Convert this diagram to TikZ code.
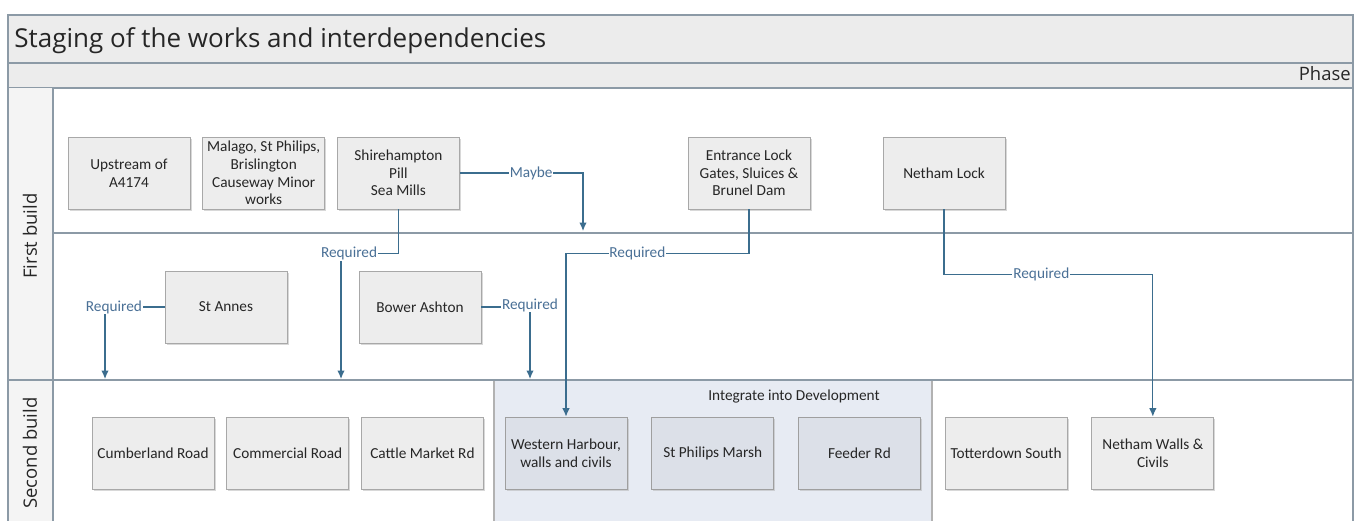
\documentclass[tikz,border=0pt]{standalone}
\usepackage{fontspec}
\setmainfont{Open Sans}
\newfontfamily\boxfont{Carlito}
\usetikzlibrary{arrows.meta,positioning,shadows}
\definecolor{framec}{HTML}{8C9AA6}
\definecolor{bandc}{HTML}{ECECEC}
\definecolor{boxc}{HTML}{EDEDED}
\definecolor{boxline}{HTML}{A8A8A8}
\definecolor{devc}{HTML}{E7EBF3}
\definecolor{devbox}{HTML}{DCE0E8}
\definecolor{linkc}{HTML}{3B6D8E}
\definecolor{lblc}{HTML}{4A7096}

\begin{document}
\begin{tikzpicture}[x=0.2mm,y=-0.2mm,>={Latex[length=1.7mm,width=1.5mm]},
		work/.style={draw=boxline,fill=boxc,rectangle,minimum width=24.4mm,minimum height=14.4mm,inner sep=1pt,align=center,text=black!85,font=\boxfont\fontsize{8.7}{10}\selectfont,drop shadow={shadow xshift=0.3mm,shadow yshift=-0.4mm,fill=black!30}},
		devwork/.style={work,fill=devbox,draw=gray!75},
		link/.style={->,draw=linkc,line width=0.7pt},
		lbl/.style={fill=white,inner sep=0.5pt,text=lblc,font=\boxfont\fontsize{8.7}{10}\selectfont},
		lane/.style={rotate=90,text=black!85,font=\fontsize{10.5}{12}\selectfont}]
		\useasboundingbox (0,0) rectangle (1363,521);
		% swimlane frame
		\fill[white] (0,0) rectangle (1363,521);
		\draw[framec,fill=bandc,line width=0.8pt] (8,15) rectangle (1353,63);
		\draw[framec,fill=bandc,line width=0.8pt] (8,63) rectangle (1353,88);
		\fill[bandc!60!white] (8,88) rectangle (53,521);
		\draw[gray!60,fill=devc,line width=0.6pt] (494,521) -- (494,380) -- (932,380) -- (932,521);
		\draw[framec,line width=0.8pt]
			(8,88) -- (8,521) (53,88) -- (53,521) (1353,88) -- (1353,521)
			(53,233) -- (1353,233) (8,380) -- (1353,380);
		
		\node[anchor=base west,inner sep=0pt,text=black!85,font=\fontsize{14.8}{17}\selectfont] (title) at (14,47) {Staging of the works and interdependencies};
		\node[anchor=base east,inner sep=0pt,text=black!85,font=\fontsize{10.5}{12}\selectfont] (phase) at (1351,80) {Phase};
		\node[lane] (firstbuild) at (30,236) {First build};
		\node[lane] (secondbuild) at (30,453) {Second build};
		\node[text=black!85,font=\boxfont\fontsize{8.7}{10}\selectfont] (integrate) at (794,396) {Integrate into Development};
		
		% first build
		\node[work] (upstream) at (129,173) {Upstream of\\A4174};
		\node[work,right=2.4mm of upstream] (malago) {Malago, St Philips,\\Brislington\\Causeway Minor\\works};
		\node[work,right=2.4mm of malago] (shire) {Shirehampton\\Pill\\Sea Mills};
		\node[work] (entrance) at (749,173) {Entrance Lock\\Gates, Sluices \&\\Brunel Dam};
		\node[work] (netham) at (944,173) {Netham Lock};
		\node[work] (stannes) at (226,307) {St Annes};
		\node[work] (bower) at (420,307) {Bower Ashton};
		
		% second build
		\node[work] (cumberland) at (153,453) {Cumberland Road};
		\node[work,right=2.4mm of cumberland] (commercial) {Commercial Road};
		\node[work,right=2.4mm of commercial] (cattle) {Cattle Market Rd};
		\node[devwork] (western) at (566,453) {Western Harbour,\\walls and civils};
		\node[devwork,right=4.8mm of western] (stphilips) {St Philips Marsh};
		\node[devwork,right=4.8mm of stphilips] (feeder) {Feeder Rd};
		\node[work,right=4.8mm of feeder] (totterdown) {Totterdown South};
		\node[work,right=4.8mm of totterdown] (nethamwalls) {Netham Walls \&\\Civils};
		
		\coordinate (maybeend) at (583,231);
		\coordinate (shireend) at (341,379);
		\coordinate (stannesend) at (105,379);
		\coordinate (bowerend) at (530,379);
		
		\draw[link] (shire.east) -| node[lbl,pos=0.29] {Maybe} (maybeend);
		\draw[link] (shire.south) -- ++(0,44) -| node[lbl,pos=0.43] {Required} (shireend);
		\draw[link] (stannes.west) -| node[lbl,pos=0.425] {Required} (stannesend);
		\draw[link] (bower.east) -| node[lbl,pos=0.5,yshift=0.4mm] {Required} (bowerend);
		\draw[link] (entrance.south) -- ++(0,44) -| node[lbl,pos=0.305] {Required} (western.north);
		\draw[link] (netham.south) -- ++(0,65) -| node[lbl,pos=0.233] {Required} (nethamwalls.north);
	\end{tikzpicture}
\end{document}
